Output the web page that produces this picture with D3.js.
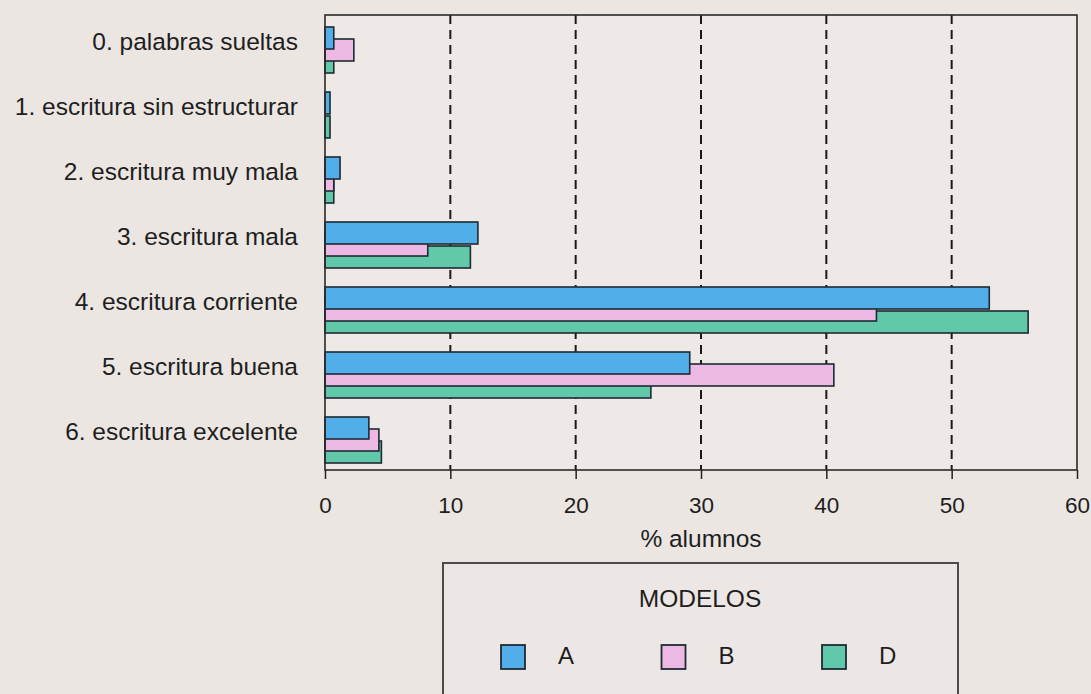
<!DOCTYPE html>
<html><head><meta charset="utf-8">
<script src="https://cdn.jsdelivr.net/npm/d3@7"></script>
<style>
html,body{margin:0;padding:0;background:#ebe6e2;}
svg{display:block;}
text{font-family:"Liberation Sans",Arial,Helvetica,sans-serif;fill:#1e1e1e;}
</style></head><body>
<svg id="chart" width="1091" height="694"></svg>
<script>
const categories = ["0. palabras sueltas","1. escritura sin estructurar","2. escritura muy mala","3. escritura mala","4. escritura corriente","5. escritura buena","6. escritura excelente"];
const seriesNames = ["A","B","D"];
const valuesA = [0.7, 0.4, 1.2, 12.2, 53.0, 29.1, 3.5];
const valuesB = [2.3, 0.0, 0.7, 8.2, 44.0, 40.6, 4.3];
const valuesD = [0.7, 0.4, 0.7, 11.6, 56.1, 26.0, 4.5];
const xTicks = [0,10,20,30,40,50,60];
const colors = {A:"#52aee8", B:"#ebb9e3", D:"#62c8aa"};
const xLabel = "% alumnos";
const legendTitle = "MODELOS";

(function(){
const svg = d3.select("#chart");
const mLeft = 325, mRight = 1077, mTop = 15, mBottom = 470;

const x = d3.scaleLinear().domain([0,60]).range([mLeft,mRight]);
const y = d3.scaleBand().domain(categories).range([mTop,mBottom]);
const off = d3.scalePoint().domain(seriesNames).range([12,36]);
const barH = 22;

svg.append("rect").attr("x",mLeft).attr("y",mTop).attr("width",mRight-mLeft).attr("height",mBottom-mTop)
  .attr("fill","#eee9e6");

svg.append("g").selectAll("line").data(xTicks.filter(t=>t>0 && t<60)).join("line")
  .attr("x1",d=>x(d)).attr("x2",d=>x(d)).attr("y1",mTop).attr("y2",mBottom)
  .attr("stroke","#1a1a1a").attr("stroke-width",2).attr("stroke-dasharray","9,6");

const data = {A:valuesA, B:valuesB, D:valuesD};
const order = ["D","B","A"];
const gBars = svg.append("g");
order.forEach(s=>{
  gBars.append("g").selectAll("rect").data(categories.map((c,i)=>({c, v:data[s][i]})).filter(d=>d.v>0)).join("rect")
    .attr("x",x(0)).attr("y",d=>y(d.c)+off(s))
    .attr("width",d=>x(d.v)-x(0)).attr("height",barH)
    .attr("fill",colors[s]).attr("stroke","#1f2a33").attr("stroke-width",1.6);
});

svg.append("rect").attr("x",mLeft).attr("y",mTop).attr("width",mRight-mLeft).attr("height",mBottom-mTop)
  .attr("fill","none").attr("stroke","#2a2a2a").attr("stroke-width",1.6);

const xAxis = d3.axisBottom(x).tickValues(xTicks).tickSize(9).tickPadding(18).tickFormat(d3.format("d"));
const ga = svg.append("g").attr("transform",`translate(0,${mBottom})`).call(xAxis);
ga.select(".domain").remove();
ga.selectAll(".tick line").attr("stroke","#222").attr("stroke-width",1.5);
ga.selectAll(".tick text").attr("font-size",22.5).attr("fill","#1e1e1e")
  .attr("font-family","'Liberation Sans',Arial,sans-serif");

svg.append("text").attr("x",x(30)).attr("y",541).attr("text-anchor","middle")
  .attr("dominant-baseline","middle").attr("font-size",24.5).text(xLabel);

svg.append("g").selectAll("text").data(categories).join("text")
  .attr("x",298).attr("y",d=>y(d)+y.bandwidth()/2-4)
  .attr("text-anchor","end").attr("dominant-baseline","middle")
  .attr("font-size",24.5).text(d=>d);

const lg = svg.append("g");
lg.append("rect").attr("x",443).attr("y",563).attr("width",515).attr("height",160)
  .attr("fill","#ece7e4").attr("stroke","#4a4a4a").attr("stroke-width",2);
lg.append("text").attr("x",700).attr("y",601).attr("text-anchor","middle")
  .attr("dominant-baseline","middle").attr("font-size",24.5).text(legendTitle);
const lx = d3.scalePoint().domain(seriesNames).range([501,822]);
const items = lg.selectAll("g.item").data(seriesNames).join("g").attr("class","item");
items.append("rect").attr("x",d=>lx(d)).attr("y",645).attr("width",24).attr("height",24)
  .attr("fill",d=>colors[d]).attr("stroke","#1f2a33").attr("stroke-width",1.8);
items.append("text").attr("x",d=>lx(d)+57).attr("y",658).attr("dominant-baseline","middle")
  .attr("font-size",24).text(d=>d);
})();
</script>
</body></html>
